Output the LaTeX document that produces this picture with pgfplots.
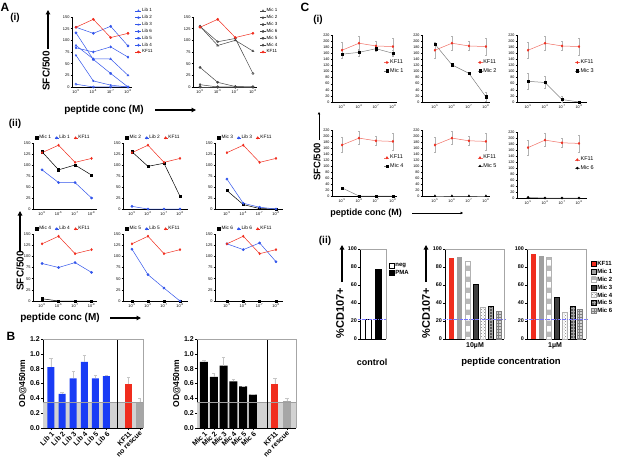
\documentclass[border=0pt]{standalone}
\usepackage{fontspec}
\setmainfont{Liberation Sans}
\usepackage{pgfplots}
\pgfplotsset{compat=1.18}
\usetikzlibrary{patterns,arrows.meta}

\definecolor{lblue}{RGB}{50,85,235}
\definecolor{bblue}{RGB}{25,60,245}
\definecolor{kred}{RGB}{240,45,30}
\definecolor{lred}{RGB}{240,110,100}
\definecolor{dgray}{RGB}{70,70,70}
\newcommand{\fs}[1]{\fontsize{#1}{#1}\selectfont}

\pgfplotsset{
  base/.style={scale only axis, anchor=south west, axis lines*=left,
    axis line style={-, line width=0.5pt}, tick align=outside,
    major tick length=1.3pt, tick style={black, line width=0.4pt},
    clip=false, /pgf/number format/assume math mode=true,
    tick label style={font=\fs{3.9}, inner sep=1pt}, legend cell align=left,
    every axis plot/.append style={line width=0.5pt, mark size=1.1pt},
    every mark/.append style={solid}},
  conc/.style={xtick={1,2,3,4},
    xticklabels={10\textsuperscript{-5},10\textsuperscript{-6},10\textsuperscript{-7},10\textsuperscript{-8}}},
  sfcA/.style={base, conc, ymin=0, ymax=150, ytick={0,25,...,150}},
  sfcC/.style={base, conc, ymin=0, ymax=220, ytick={0,20,...,220},
    tick label style={font=\fs{3.7}},
    legend style={draw=none, fill=none, font=\fs{5.5}, anchor=north west, row sep=2pt,
      inner sep=0pt, nodes={inner sep=0.5pt}},
    legend image code/.code={\draw[mark repeat=2,mark phase=2,##1] plot coordinates {(0pt,0pt)(2.5pt,0pt)(5pt,0pt)};},
    error bars/error bar style={gray!60, line width=0.3pt},
    error bars/error mark options={gray!60, rotate=90, mark size=0.8pt}},
  legA/.style={legend style={draw=none, fill=none, font=\fs{4.5}, anchor=north west,
      inner sep=0pt, nodes={inner sep=0.4pt}, row sep=1.3pt},
    legend image code/.code={\draw[mark repeat=2,mark phase=2,##1] plot coordinates {(0pt,0pt)(3pt,0pt)(6pt,0pt)};}},
  legAii/.style={legend columns=3, legend style={draw=none, fill=none, font=\fs{4.8},
      at={(0.02,1.03)}, anchor=south west, inner sep=0pt, nodes={inner sep=0.5pt},
      /tikz/every even column/.append style={column sep=3pt}},
    legend image code/.code={\draw[mark repeat=2,mark phase=2,##1] plot coordinates {(0pt,0pt)(2pt,0pt)(4pt,0pt)};}},
  odB/.style={base, ymin=0, ymax=1.2, ytick={0,0.2,0.4,0.6,0.8,1.0,1.2},
    major tick length=2pt,
    xticklabel style={rotate=45, anchor=north east, font=\bfseries\fs{7}, inner sep=0.5pt},
    yticklabel style={font=\bfseries\fs{7}, /pgf/number format/.cd, fixed, fixed zerofill, precision=1},
    ylabel={OD@450nm}, ylabel style={font=\bfseries\fs{8.5}, yshift=-1pt},
    error bars/error bar style={gray!45, line width=0.4pt},
    error bars/error mark options={gray!45, rotate=90, mark size=1.6pt}},
  cdC/.style={base, ymin=0, ymax=100, ytick={0,20,...,100}, xtick=\empty,
    major tick length=2pt, yticklabel style={font=\bfseries\fs{5.4}},
    legend style={draw=none, fill=none, font=\bfseries\fs{6}, anchor=north west,
      inner sep=0pt, nodes={inner sep=0.6pt}, row sep=0.8pt},
    legend image code/.code={\draw[##1] (0pt,-2pt) rectangle (5pt,3pt);}},
}

\begin{document}
\begin{tikzpicture}[x=1pt,y=1pt, arr/.style={-{Triangle[length=4.5pt,width=4.5pt]}, line width=1.3pt},
  tarr/.style={-{Triangle[length=2.5pt,width=2.5pt]}, line width=0.5pt}]
\useasboundingbox (0,0) rectangle (617,461);

% ---------------- A (i)
\begin{axis}[sfcA, legA, at={(72pt,374pt)}, width=60pt, height=70pt, xmin=0.77, xmax=4.23,
  legend style={at={(1.05,1.13)}}]
\addplot[lblue, mark=triangle] coordinates {(1,89)(2,60)(3,60)(4,25)};
\addplot[lblue, mark=o] coordinates {(1,6)(2,0)(3,0)(4,0)};
\addplot[lblue, mark=star] coordinates {(1,68)(2,13)(3,4)(4,0)};
\addplot[lblue, mark=*] coordinates {(1,128)(2,115)(3,130)(4,88)};
\addplot[lblue, mark=pentagon*] coordinates {(1,116)(2,59)(3,29)(4,0)};
\addplot[lblue, mark=diamond*] coordinates {(1,84)(2,75)(3,86)(4,64)};
\addplot[kred, mark=*] coordinates {(1,128)(2,145)(3,106)(4,115)};
\legend{Lib 1,Lib 2,Lib 3,Lib 6,Lib 5,Lib 4,KF11}
\end{axis}

\begin{axis}[sfcA, legA, at={(193pt,374pt)}, width=64pt, height=70pt, xmin=0.6, xmax=4.23,
  legend style={at={(1.04,1.13)}}]
\addplot[dgray, mark=triangle] coordinates {(1,130)(2,89)(3,100)(4,77)};
\addplot[dgray, mark=o] coordinates {(1,130)(2,97)(3,104)(4,29)};
\addplot[dgray, mark=*] coordinates {(1,42)(2,10)(3,1)(4,0)};
\addplot[dgray, mark=*] coordinates {(1,0)(2,0)(3,0)(4,0)};
\addplot[dgray, mark=pentagon*] coordinates {(1,0)(2,0)(3,0)(4,0)};
\addplot[dgray, mark=diamond*] coordinates {(1,5)(2,0)(3,0)(4,0)};
\addplot[kred, mark=*] coordinates {(1,128)(2,145)(3,106)(4,115)};
\legend{Mic 1,Mic 2,Mic 3,Mic 6,Mic 5,Mic 4,KF11}
\end{axis}

% ---------------- A (ii) top row
\begin{axis}[sfcA, legAii, at={(33pt,252pt)}, width=64pt, height=66pt, xmin=0.45, xmax=4.33]
\addplot[black, mark=square*] coordinates {(1,130)(2,89)(3,100)(4,77)};
\addplot[lblue, mark=*] coordinates {(1,89)(2,60)(3,60)(4,25)};
\addplot[kred, mark=diamond*] coordinates {(1,128)(2,145)(3,106)(4,115)};
\legend{Mic 1,Lib 1,KF11}
\end{axis}
\begin{axis}[sfcA, legAii, at={(123pt,252pt)}, width=65pt, height=66pt, xmin=0.44, xmax=4.5]
\addplot[black, mark=square*] coordinates {(1,130)(2,97)(3,104)(4,29)};
\addplot[lblue, mark=*] coordinates {(1,6)(2,0)(3,0)(4,0)};
\addplot[kred, mark=diamond*] coordinates {(1,128)(2,145)(3,106)(4,115)};
\legend{Mic 2,Lib 2,KF11}
\end{axis}
\begin{axis}[sfcA, legAii, at={(215pt,252pt)}, width=68pt, height=66pt, xmin=0.27, xmax=4.43]
\addplot[black, mark=square*] coordinates {(1,42)(2,10)(3,1)(4,0)};
\addplot[lblue, mark=*] coordinates {(1,68)(2,13)(3,4)(4,0)};
\addplot[kred, mark=diamond*] coordinates {(1,128)(2,145)(3,106)(4,115)};
\legend{Mic 3,Lib 3,KF11}
\end{axis}
% ---------------- A (ii) bottom row
\begin{axis}[sfcA, legAii, at={(33pt,160pt)}, width=64pt, height=67pt, xmin=0.45, xmax=4.33]
\addplot[black, mark=square*] coordinates {(1,5)(2,0)(3,0)(4,0)};
\addplot[lblue, mark=*] coordinates {(1,84)(2,75)(3,86)(4,64)};
\addplot[kred, mark=diamond*] coordinates {(1,128)(2,145)(3,106)(4,115)};
\legend{Mic 4,Lib 4,KF11}
\end{axis}
\begin{axis}[sfcA, legAii, at={(123pt,160pt)}, width=65pt, height=67pt, xmin=0.44, xmax=4.5]
\addplot[black, mark=square*] coordinates {(1,0)(2,0)(3,0)(4,0)};
\addplot[lblue, mark=*] coordinates {(1,116)(2,59)(3,29)(4,0)};
\addplot[kred, mark=diamond*] coordinates {(1,128)(2,145)(3,106)(4,115)};
\legend{Mic 5,Lib 5,KF11}
\end{axis}
\begin{axis}[sfcA, legAii, at={(215pt,160pt)}, width=68pt, height=67pt, xmin=0.27, xmax=4.43]
\addplot[black, mark=square*] coordinates {(1,0)(2,0)(3,0)(4,0)};
\addplot[lblue, mark=*] coordinates {(1,128)(2,115)(3,130)(4,88)};
\addplot[kred, mark=diamond*] coordinates {(1,128)(2,145)(3,106)(4,115)};
\legend{Mic 6,Lib 6,KF11}
\end{axis}

% ---------------- B
\begin{axis}[odB, at={(43pt,33pt)}, width=100pt, height=89pt, xmin=0.28, xmax=9.29,
  xtick={1,2,3,4,5,6,8,9}, xticklabels={Lib 1,Lib 2,Lib 3,Lib 4,Lib 5,Lib 6,KF11,no rescue}]
\addplot[fill=gray!35, draw=none] coordinates {(0.28,0.35)(9.29,0.35)} \closedcycle;
\addplot[ybar, bar width=7pt, fill=bblue, draw=none, error bars/.cd, y dir=plus, y explicit]
  coordinates {(1,0.82) +- (0,0.12) (2,0.46) +- (0,0.02) (3,0.67) +- (0,0.10)
               (4,0.89) +- (0,0.09) (5,0.67) +- (0,0.04) (6,0.70) +- (0,0.01)};
\addplot[ybar, bar width=7pt, fill=kred, draw=none, error bars/.cd, y dir=plus, y explicit]
  coordinates {(8,0.60) +- (0,0.08)};
\addplot[ybar, bar width=7pt, fill=gray!70, draw=none, error bars/.cd, y dir=plus, y explicit]
  coordinates {(9,0.35) +- (0,0.05)};
\addplot[gray!75, line width=0.7pt] coordinates {(0.28,0.35)(9.29,0.35)};
\addplot[black, line width=0.5pt] coordinates {(7,0)(7,1.2)};
\draw[gray!70, line width=0.4pt] (rel axis cs:0,1) -- (rel axis cs:1,1) -- (rel axis cs:1,0);
\end{axis}

\begin{axis}[odB, at={(197pt,33pt)}, width=99pt, height=89pt, xmin=0.29, xmax=10.39,
  xtick={1,2,3,4,5,6,8.24,9.47}, xticklabels={Mic 1,Mic 2,Mic 3,Mic 4,Mic 5,Mic 6,KF11,no rescue}]
\addplot[fill=gray!35, draw=none] coordinates {(0.29,0.35)(10.39,0.35)} \closedcycle;
\addplot[ybar, bar width=8pt, fill=black, draw=none, error bars/.cd, y dir=plus, y explicit]
  coordinates {(1,0.89) +- (0,0.03) (2,0.69) +- (0,0.05) (3,0.84) +- (0,0.12)
               (4,0.63) +- (0,0.03) (5,0.56) +- (0,0.0) (6,0.45) +- (0,0.0)};
\addplot[ybar, bar width=7pt, fill=kred, draw=none, error bars/.cd, y dir=plus, y explicit]
  coordinates {(8.24,0.60) +- (0,0.07)};
\addplot[ybar, bar width=8pt, fill=gray!70, draw=none, error bars/.cd, y dir=plus, y explicit]
  coordinates {(9.47,0.36) +- (0,0.04)};
\addplot[gray!75, line width=0.7pt] coordinates {(0.29,0.35)(10.39,0.35)};
\addplot[black, line width=0.5pt] coordinates {(7.43,0)(7.43,1.2)};
\draw[gray!70, line width=0.4pt] (rel axis cs:0,1) -- (rel axis cs:1,1) -- (rel axis cs:1,0);
\end{axis}

% ---------------- C (i) row 1
\begin{axis}[sfcC, at={(332pt,359pt)}, width=65pt, height=67pt, xmin=0.41, xmax=4.24,
  legend style={at={(0.8,0.64)}}]
\addplot[lred, mark=diamond*, mark options={kred}, error bars/.cd, y dir=both, y explicit]
  coordinates {(1,170) +- (0,25) (2,193) +- (0,22) (3,184) +- (0,14) (4,182) +- (0,28)};
\addplot[gray, mark=square*, mark options={black}, error bars/.cd, y dir=both, y explicit]
  coordinates {(1,157) +- (0,12) (2,163) +- (0,12) (3,175) +- (0,8) (4,160) +- (0,10)};
\legend{KF11,Mic 1}
\end{axis}
\begin{axis}[sfcC, at={(422pt,359pt)}, width=68pt, height=67pt, xmin=0.24, xmax=4.24,
  legend style={at={(0.81,0.64)}}]
\addplot[lred, mark=diamond*, mark options={kred}, error bars/.cd, y dir=both, y explicit]
  coordinates {(1,170) +- (0,25) (2,193) +- (0,22) (3,184) +- (0,14) (4,182) +- (0,28)};
\addplot[gray, mark=square*, mark options={black}, error bars/.cd, y dir=both, y explicit]
  coordinates {(1,190) +- (0,5) (2,122) +- (0,3) (3,94) +- (0,3) (4,17) +- (0,15)};
\legend{KF11,Mic 2}
\end{axis}
\begin{axis}[sfcC, at={(517pt,359pt)}, width=70pt, height=67pt, xmin=0.35, xmax=4.47,
  legend style={at={(0.82,0.64)}}]
\addplot[lred, mark=diamond*, mark options={kred}, error bars/.cd, y dir=both, y explicit]
  coordinates {(1,170) +- (0,25) (2,193) +- (0,22) (3,184) +- (0,14) (4,182) +- (0,28)};
\addplot[gray, mark=square*, mark options={black}, error bars/.cd, y dir=both, y explicit]
  coordinates {(1,68) +- (0,25) (2,64) +- (0,20) (3,8) +- (0,10) (4,0) +- (0,0)};
\legend{KF11,Mic 3}
\end{axis}
% ---------------- C (i) row 2
\begin{axis}[sfcC, at={(332pt,265pt)}, width=65pt, height=66pt, xmin=0.41, xmax=4.24,
  legend style={at={(0.8,0.63)}}]
\addplot[lred, mark=diamond*, mark options={kred}, error bars/.cd, y dir=both, y explicit]
  coordinates {(1,170) +- (0,25) (2,193) +- (0,22) (3,184) +- (0,14) (4,182) +- (0,28)};
\addplot[gray, mark=square*, mark options={black}]
  coordinates {(1,27)(2,0)(3,0)(4,0)};
\legend{KF11,Mic 4}
\end{axis}
\begin{axis}[sfcC, at={(422pt,265pt)}, width=68pt, height=66pt, xmin=0.24, xmax=4.24,
  legend style={at={(0.81,0.63)}}]
\addplot[lred, mark=diamond*, mark options={kred}, error bars/.cd, y dir=both, y explicit]
  coordinates {(1,170) +- (0,25) (2,193) +- (0,22) (3,184) +- (0,14) (4,182) +- (0,28)};
\addplot[gray, mark=triangle*, mark options={black}]
  coordinates {(1,0)(2,0)(3,0)(4,0)};
\legend{KF11,Mic 5}
\end{axis}
\begin{axis}[sfcC, at={(517pt,263pt)}, width=70pt, height=66pt, xmin=0.35, xmax=4.47,
  legend style={at={(0.82,0.63)}}]
\addplot[lred, mark=diamond*, mark options={kred}, error bars/.cd, y dir=both, y explicit]
  coordinates {(1,168) +- (0,25) (2,193) +- (0,22) (3,184) +- (0,14) (4,182) +- (0,28)};
\addplot[gray, mark=*, mark options={black}]
  coordinates {(1,2)(2,0)(3,0)(4,0)};
\legend{KF11,Mic 6}
\end{axis}

% ---------------- C (ii)
\begin{axis}[cdC, at={(360pt,122pt)}, width=26pt, height=90pt, xmin=0.1, xmax=2.84,
  legend style={at={(1.12,0.85)}}]
\addplot[ybar, bar width=6pt, fill=white, draw=black] coordinates {(1,22)};
\addplot[ybar, bar width=6pt, fill=black, draw=black] coordinates {(2,77)};
\legend{neg,PMA}
\addplot[forget plot, densely dashdotted, color=blue!55] coordinates {(-0.15,22)(2.95,22)};
\draw[gray!70, line width=0.4pt] (rel axis cs:0,1) -- (rel axis cs:1,1) -- (rel axis cs:1,0);
\end{axis}

\begin{axis}[cdC, at={(445pt,122pt)}, width=59pt, height=90pt, xmin=0.1, xmax=7.7]
\addplot[ybar, bar width=5pt, fill=kred, draw=none] coordinates {(1,90)};
\addplot[ybar, bar width=5pt, fill=gray!75, draw=none] coordinates {(2,91)};
\addplot[ybar, bar width=5pt, pattern=checkerboard, pattern color=gray!55, draw=gray!60] coordinates {(3,86)};
\addplot[ybar, bar width=5pt, fill=black!75, draw=black] coordinates {(4,61)};
\addplot[ybar, bar width=5pt, pattern=crosshatch dots, pattern color=gray, draw=gray!60] coordinates {(5,35)};
\addplot[ybar, bar width=5pt, fill=black!65, draw=black, postaction={pattern=grid, pattern color=black!35}] coordinates {(6,36)};
\addplot[ybar, bar width=5pt, fill=gray!35, draw=gray, postaction={pattern=grid, pattern color=gray}] coordinates {(7,31)};
\addplot[densely dashdotted, color=blue!55] coordinates {(-0.15,22)(7.95,22)};
\draw[gray!70, line width=0.4pt] (rel axis cs:0,1) -- (rel axis cs:1,1) -- (rel axis cs:1,0);
\end{axis}

\begin{axis}[cdC, at={(527pt,122pt)}, width=59pt, height=90pt, xmin=0.13, xmax=7.78,
  legend style={at={(1.085,0.87)}}]
\addplot[ybar, bar width=5pt, fill=kred, draw=none] coordinates {(1,94)};
\addplot[ybar, bar width=5pt, fill=gray!75, draw=none] coordinates {(2,92)};
\addplot[ybar, bar width=5pt, pattern=checkerboard, pattern color=gray!55, draw=gray!60] coordinates {(3,91)};
\addplot[ybar, bar width=5pt, fill=black!75, draw=black] coordinates {(4,46)};
\addplot[ybar, bar width=5pt, pattern=crosshatch dots, pattern color=gray, draw=gray!60] coordinates {(5,30)};
\addplot[ybar, bar width=5pt, fill=black!65, draw=black, postaction={pattern=grid, pattern color=black!35}] coordinates {(6,36)};
\addplot[ybar, bar width=5pt, fill=gray!35, draw=gray, postaction={pattern=grid, pattern color=gray}] coordinates {(7,33)};
\legend{KF11,Mic 1,Mic 2,Mic 3,Mic 4,Mic 5,Mic 6}
\addplot[forget plot, densely dashdotted, color=blue!55] coordinates {(-0.15,22)(8.1,22)};
\draw[gray!70, line width=0.4pt] (rel axis cs:0,1) -- (rel axis cs:1,1) -- (rel axis cs:1,0);
\end{axis}

% ---------------- labels
\node[font=\bfseries\fs{12}] at (5,454) {A};
\node[font=\bfseries\fs{10}] at (15,443) {(i)};
\node[font=\bfseries\fs{10}, rotate=90] at (46,390) {SFC/500};
\draw[arr] (48,412) -- (48,451);
\node[font=\bfseries\fs{10}] at (104,351) {peptide conc (M)};
\draw[arr] (155,351) -- (196,351);
\node[font=\bfseries\fs{10}] at (15,337) {(ii)};
\node[font=\bfseries\fs{10}, rotate=90] at (20,190) {SFC/500};
\draw[arr] (20,209) -- (20,250);
\node[font=\bfseries\fs{10}] at (60,143) {peptide conc (M)};
\draw[arr] (110,143) -- (141,143);
\node[font=\bfseries\fs{12}] at (11,125) {B};
\node[font=\bfseries\fs{12}] at (305,454) {C};
\node[font=\bfseries\fs{10}] at (318,441) {(i)};
\node[font=\bfseries\fs{9.5}, rotate=90] at (317,299) {SFC/500};
\draw[tarr] (319,321) -- (319,349);
\node[font=\bfseries\fs{9}] at (366,248) {peptide conc (M)};
\draw[tarr] (412,248) -- (463,248);
\node[font=\bfseries\fs{10}] at (325,220) {(ii)};
\node[font=\bfseries\fs{11}, rotate=90] at (340,148) {\%CD107+};
\draw[arr] (342,179) -- (342,216);
\node[font=\bfseries\fs{11}, rotate=90] at (426,148) {\%CD107+};
\draw[arr] (426,179) -- (426,216);
\node[font=\bfseries\fs{9}] at (372,99) {control};
\node[font=\bfseries\fs{9.5}] at (511,99) {peptide concentration};
\node[font=\bfseries\fs{7}] at (475,115) {10µM};
\node[font=\bfseries\fs{7}] at (555,115) {1µM};
\end{tikzpicture}
\end{document}
